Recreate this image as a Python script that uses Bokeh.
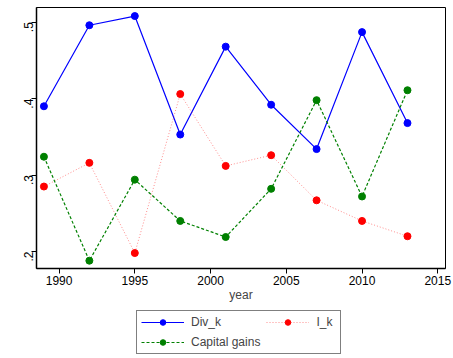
import math
from bokeh.plotting import figure
from bokeh.layouts import column
from bokeh.models import FixedTicker, CustomJSTickFormatter, Legend, LegendItem, Range1d
from bokeh.embed import file_html
from bokeh.resources import INLINE

years = [1989, 1992, 1995, 1998, 2001, 2004, 2007, 2010, 2013]
div_k = [0.390, 0.496, 0.508, 0.353, 0.468, 0.392, 0.334, 0.487, 0.368]
i_k = [0.285, 0.316, 0.198, 0.406, 0.312, 0.326, 0.267, 0.240, 0.220]
cap_gains = [0.324, 0.188, 0.294, 0.240, 0.219, 0.282, 0.398, 0.272, 0.411]
x_ticks = [1990, 1995, 2000, 2005, 2010, 2015]
y_ticks = [0.2, 0.3, 0.4, 0.5]

FONT = "Liberation Sans"

STYLES = [
    dict(label="Div_k", y=div_k, color="#0000ff", alpha=1.0, width=1.2, dash="solid"),
    dict(label="I_k", y=i_k, color="#ff0000", alpha=0.45, width=1, dash="1 2"),
    dict(label="Capital gains", y=cap_gains, color="#008000", alpha=1.0, width=1.2, dash="3 2"),
]


def draw(fig):
    out = {}
    for s in STYLES:
        ln = fig.line(years, s["y"], line_color=s["color"], line_alpha=s["alpha"],
                      line_width=s["width"], line_dash=s["dash"])
        sc = fig.scatter(years, s["y"], size=7, fill_color=s["color"], line_color=s["color"])
        out[s["label"]] = [ln, sc]
    return out


p = figure(width=453, height=304, output_backend="svg", toolbar_location=None,
           x_range=Range1d(1988.51, 2015.51), y_range=Range1d(0.1778, 0.5192),
           min_border_left=36, min_border_right=8, min_border_top=7, min_border_bottom=36,
           background_fill_color="white", border_fill_color="white",
           outline_line_color="black", outline_line_width=1)
p.xgrid.visible = False
p.ygrid.visible = False
draw(p)

xa = p.xaxis[0]
xa.ticker = FixedTicker(ticks=x_ticks)
xa.minor_tick_line_color = None
xa.major_tick_out = 5
xa.major_tick_in = 0
xa.major_label_standoff = 2
xa.major_label_text_font = FONT
xa.major_label_text_font_size = "12px"
xa.major_label_text_color = "black"
xa.axis_label = "year"
xa.axis_label_text_font = FONT
xa.axis_label_text_font_size = "12px"
xa.axis_label_text_font_style = "normal"
xa.axis_label_standoff = 0
xa.axis_line_color = "black"
xa.axis_line_width = 1.5

ya = p.yaxis[0]
ya.ticker = FixedTicker(ticks=y_ticks)
ya.formatter = CustomJSTickFormatter(code="return tick.toFixed(1).replace(/^0/, '');")
ya.minor_tick_line_color = None
ya.major_tick_out = 5
ya.major_tick_in = 0
ya.major_label_orientation = math.pi / 2
ya.major_label_standoff = 3
ya.major_label_text_font = FONT
ya.major_label_text_font_size = "12px"
ya.major_label_text_color = "black"
ya.axis_line_color = "black"
ya.axis_line_width = 1.5

# legend strip below the chart
p2 = figure(width=453, height=54, output_backend="svg", toolbar_location=None,
            x_range=Range1d(0, 1), y_range=Range1d(0, 1),
            x_axis_location=None, y_axis_location=None,
            min_border_left=0, min_border_right=0, min_border_top=0, min_border_bottom=0,
            background_fill_color="white", border_fill_color="white",
            outline_line_color=None)
p2.xgrid.visible = False
p2.ygrid.visible = False
rs = draw(p2)

legend = Legend(items=[
    LegendItem(label="Div_k", renderers=rs["Div_k"]),
    LegendItem(label="I_k", renderers=rs["I_k"]),
    LegendItem(label="Capital gains", renderers=rs["Capital gains"]),
], orientation="horizontal", ncols=2, location=(100, 4))
legend.label_text_font = FONT
legend.label_text_font_size = "12px"
legend.glyph_width = 43
legend.glyph_height = 14
legend.label_height = 14
legend.label_standoff = 7
legend.padding = 4
legend.spacing = 6
legend.margin = 0
legend.border_line_color = "black"
legend.border_line_width = 1
legend.background_fill_color = "white"
p2.add_layout(legend, "center")

layout = column(p, p2, spacing=0)
open("out.html", "w").write(file_html(layout, INLINE))
